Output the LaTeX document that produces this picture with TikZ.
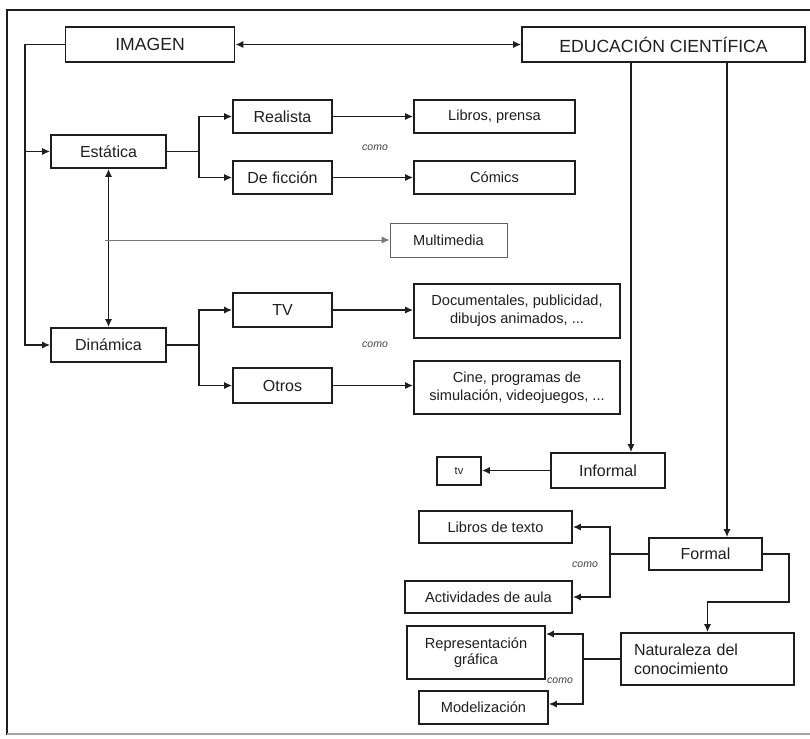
\documentclass[tikz,border=0pt]{standalone}
\usepackage{fontspec}
\setmainfont{Liberation Sans}
\usetikzlibrary{arrows.meta,calc}
\definecolor{ink}{HTML}{1E1E1E}
\tikzset{
  box/.style={draw=ink, line width=1.6pt, inner sep=0pt, text=ink, align=center},
  bigf/.style={font=\fontsize{17.6}{20}\selectfont},
  midf/.style={font=\fontsize{16}{19}\selectfont},
  smf/.style={font=\fontsize{14.6}{18}\selectfont},
  conn/.style={draw=ink, line width=1.5pt},
  arr/.style={conn, -{Latex[length=8pt,width=7pt]}},
  darr/.style={conn, {Latex[length=8pt,width=7pt]}-{Latex[length=8pt,width=7pt]}},
  como/.style={font=\fontsize{10.5}{12}\selectfont\itshape, text=ink!85, inner sep=0pt}
}
\begin{document}
\begin{tikzpicture}[x=1pt,y=-1pt]
\useasboundingbox (0,0) rectangle (810,738);
% frame
\draw[ink, line width=1.8pt] (810,10) -- (7,10) -- (7,735);
\draw[ink!40, line width=1.2pt] (7,734) -- (810,734);

% nodes
\node[box,bigf,minimum width=169pt,minimum height=35pt] (img) at (150,44.5) {IMAGEN};
\node[box,bigf,minimum width=283pt,minimum height=35pt] (edu) at (663.5,44.5) {EDUCACIÓN CIENTÍFICA};
\node[box,midf,minimum width=115pt,minimum height=33pt] (est) at (108.5,151.5) {Estática};
\node[box,midf,minimum width=115pt,minimum height=34pt] (din) at (108.5,345) {Dinámica};
\node[box,midf,minimum width=99pt,minimum height=33pt] (real) at (282.5,116.5) {Realista};
\node[box,midf,minimum width=99pt,minimum height=33pt] (fic) at (282.5,177.5) {De ficción};
\node[box,smf,minimum width=161pt,minimum height=33pt] (lib) at (494.5,116.5) {Libros, prensa};
\node[box,smf,minimum width=161pt,minimum height=33pt] (com) at (494.5,177.5) {Cómics};
\node[box,smf,draw=ink!70,line width=0.9pt,minimum width=117pt,minimum height=34pt] (mm) at (448.5,240) {Multimedia};
\node[box,midf,minimum width=99pt,minimum height=34pt] (tv) at (282.5,310) {TV};
\node[box,midf,minimum width=99pt,minimum height=35pt] (otr) at (282.5,385.5) {Otros};
\node[box,smf,minimum width=206pt,minimum height=54pt] (doc) at (517,311) {Documentales, publicidad,\\dibujos animados, ...};
\node[box,smf,minimum width=206pt,minimum height=53pt] (cine) at (517,387.5) {Cine, programas de\\simulación, videojuegos, ...};
\node[box,midf,minimum width=114pt,minimum height=35pt] (inf) at (608,470.5) {Informal};
\node[box,font=\fontsize{11}{12}\selectfont,minimum width=44pt,minimum height=28pt] (tvs) at (459,471) {tv};
\node[box,midf,minimum width=113pt,minimum height=32pt] (form) at (705.5,554) {Formal};
\node[box,smf,minimum width=153pt,minimum height=32pt] (libt) at (495.5,527) {Libros de texto};
\node[box,smf,minimum width=167pt,minimum height=32pt] (act) at (488.5,597) {Actividades de aula};
\node[box,midf,align=left,text width=147pt,inner xsep=13pt,minimum height=52pt] (nat) at (707.5,659) {Naturaleza del\\conocimiento};
\node[box,font=\fontsize{14.6}{16}\selectfont,minimum width=138pt,minimum height=53pt] (rep) at (476,652.5) {Representación\\gráfica};
\node[box,smf,minimum width=129pt,minimum height=33pt] (mod) at (483.5,707.5) {Modelización};

% como labels
\node[como] (c1) at (375,148) {como};
\node[como] (c2) at (375,345) {como};
\node[como] (c3) at (585,565) {como};
\node[como] (c4) at (560,681) {como};

% coordinates
\coordinate (tl) at (25,44.5);
\coordinate (j1) at (199,151.5);
\coordinate (j2) at (199,345);
\coordinate (e1) at (631,0);
\coordinate (e2) at (727,0);
\coordinate (j3) at (610,554);
\coordinate (f1) at (789,554);
\coordinate (f2) at (789,602);
\coordinate (j4) at (583,659);

% connectors
\draw[darr] (img.east) -- (edu.west);
\draw[arr] (img.west) -- (tl) |- (din.west);
\draw[arr] (tl |- est.west) -- (est.west);
\draw[darr] (est.south) -- (din.north);
\draw[arr, draw=ink!60, line width=0.9pt] ([xshift=-4pt]est.south |- mm.west) -- (mm.west);

\draw[conn] (est.east) -- (j1);
\draw[arr] (j1) |- (real.west);
\draw[arr] (j1) |- (fic.west);
\draw[arr] (real.east) -- (real.east -| lib.west);
\draw[arr] (fic.east) -- (fic.east -| com.west);

\draw[conn] (din.east) -- (j2);
\draw[arr] (j2) |- (tv.west);
\draw[arr] (j2) |- (otr.west);
\draw[arr] (tv.east) -- (tv.east -| doc.west);
\draw[arr] (otr.east) -- (otr.east -| cine.west);

\draw[arr] (edu.south -| e1) -- (e1 |- inf.north);
\draw[arr] (edu.south -| e2) -- (e2 |- form.north);
\draw[arr] (inf.west) -- (inf.west -| tvs.east);

\draw[conn] (form.west) -- (j3);
\draw[arr] (j3) |- (libt.east);
\draw[arr] (j3) |- (act.east);
\draw[arr] (form.east) -- (f1) -- (f2) -| (nat.north);

\draw[conn] (nat.west) -- (j4);
\draw[arr] (j4) |- ([yshift=18.5pt]rep.east);
\draw[arr] (j4) |- ([yshift=3.5pt]mod.east);
\end{tikzpicture}
\end{document}
